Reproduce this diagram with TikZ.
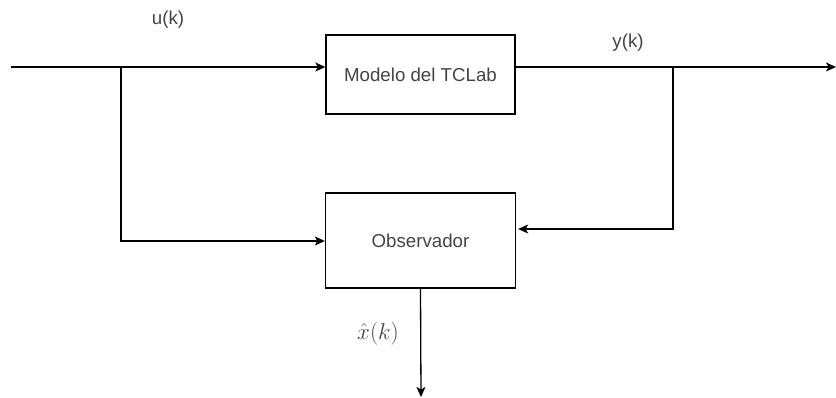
\RequirePackage{fix-cm}
\documentclass[tikz,border=0pt]{standalone}
\usepackage{fontspec}
\setmainfont{Liberation Sans}
\usetikzlibrary{arrows.meta}
\definecolor{txtgray}{HTML}{444444}
\tikzset{
  blockbox/.style={draw, line width=1.3pt, rectangle, text=txtgray, font=\fontsize{18.7}{22}\selectfont},
  sig/.style={-{Stealth[length=10pt,width=9pt,inset=2.5pt]}, line width=1.3pt},
  siglabel/.style={text=txtgray, font=\fontsize{18.7}{22}\selectfont}
}
\begin{document}
\begin{tikzpicture}[x=1pt, y=-1pt, auto]
        \useasboundingbox (0,0) rectangle (836,398);

        % Plant block
        \node[blockbox, minimum width=189pt, minimum height=79pt] (model) at (420.5,74.5) {Modelo del TCLab};

        % Observer block
        \node[blockbox, below of=model, node distance=166pt, minimum width=190pt, minimum height=95pt] (obs) {Observador};

        % Input u(k)
        \coordinate (input) at (11,67);
        \coordinate (usplit) at (121,67);
        \node[siglabel] (ulabel) at (168,20) {u(k)};
        \draw[line width=1.3pt] (input) -- (usplit);
        \draw[sig] (usplit) -- (usplit -| model.west);
        \draw[sig] (usplit) |- ([yshift=-0.5pt]obs.west);

        % Output y(k)
        \coordinate (ysplit) at (673,67);
        \coordinate (output) at (836,67);
        \node[siglabel] (ylabel) at (628,43) {y(k)};
        \draw[line width=1.3pt] (model.east |- ysplit) -- (ysplit);
        \draw[sig] (ysplit) -- (output);
        \draw[sig, shorten >=2pt] (ysplit) |- ([yshift=11.5pt]obs.east);

        % Estimated state
        \coordinate (estim) at (421,397);
        \node[font=\fontsize{23}{26}\selectfont, text=txtgray] (xlabel) at (378,334) {$\hat{x}(k)$};
        \draw[sig] (obs.south) -- (estim);

        \end{tikzpicture}
\end{document}
